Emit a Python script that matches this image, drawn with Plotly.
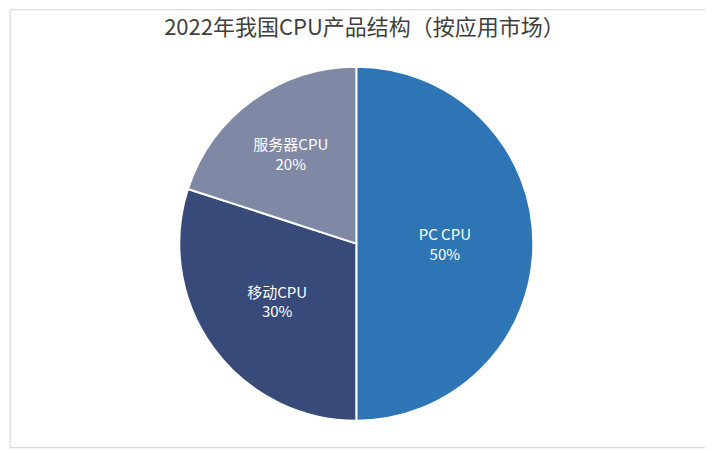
import plotly.graph_objects as go

# Market share of CPU products by application, 2022
labels = ['PC CPU', '移动CPU', '服务器CPU']
shares = [50, 30, 20]
colors = ['#2E75B6', '#374A7A', '#7F89A5']

fig = go.Figure(go.Pie(
    labels=labels, values=shares, sort=False, direction='clockwise',
    rotation=0, marker=dict(colors=colors, line=dict(color='white', width=2)),
    textinfo='label+percent', texttemplate='%{label}<br>%{percent:.0%}',
    textposition='inside', insidetextorientation='horizontal',
    textfont=dict(color='white', size=15),
    domain=dict(x=[0.240, 0.737], y=[0.085, 0.870]),
    showlegend=False,
))

fig.update_layout(
    width=713, height=451,
    margin=dict(l=0, r=0, t=0, b=0),
    paper_bgcolor='white',
    font=dict(family='Noto Sans CJK SC'),
    title=dict(text='2022年我国CPU产品结构（按应用市场）', x=0.5, y=0.957,
               xanchor='center', yanchor='middle',
               font=dict(size=22, color='#404040')),
    shapes=[dict(type='rect', xref='paper', yref='paper',
                 x0=0.003, x1=0.997, y0=0.025, y1=0.996,
                 line=dict(color='#D0D0D0', width=1))],
)

fig.write_html('out.html')
